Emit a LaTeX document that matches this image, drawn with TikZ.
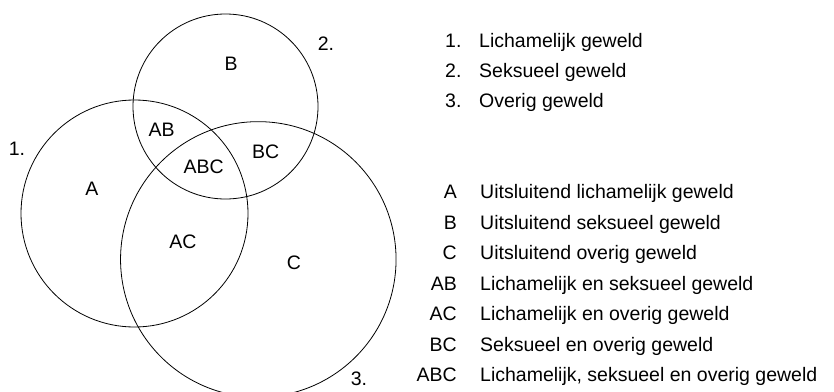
\documentclass[tikz,border=0pt]{standalone}
\usepackage{fontspec}
\setmainfont{Liberation Sans}
\usetikzlibrary{positioning}

\begin{document}
\begin{tikzpicture}[x=1pt, y=-1pt,
    vennCircle/.style={draw=black, line width=0.8pt, circle, inner sep=0pt},
    vennText/.style={inner sep=0pt, anchor=base, font=\fontsize{19.5}{23}\selectfont},
    keyText/.style={inner sep=0pt, anchor=base east, font=\fontsize{19.5}{23}\selectfont},
    legendText/.style={inner sep=0pt, anchor=base west, font=\fontsize{19.5}{23}\selectfont}]
\useasboundingbox (0,0) rectangle (834,391);

% the three sets
\node[vennCircle, minimum size=227pt] (circA) at (134.5,213.5) {};
\node[vennCircle, minimum size=185pt] (circB) at (225.5,106.5) {};
\node[vennCircle, minimum size=275.5pt] (circC) at (258.3,259.4) {};

\node[vennText] (numA) at (17,155) {1.};
\node[vennText] (numB) at (326,50) {2.};
\node[vennText] (numC) at (359,385) {3.};

\node[vennText] (regA) at (92,195) {A};
\node[vennText] (regB) at (231,70.7) {B};
\node[vennText] (regC) at (294,269) {C};
\node[vennText] (regAB) at (161.7,136.7) {AB};
\node[vennText] (regAC) at (183,248) {AC};
\node[vennText] (regBC) at (265.7,158) {BC};
\node[vennText] (regABC) at (203.7,173) {ABC};

% legend of the sets
\node[legendText] (legNumA) at (445,47) {1.};
\node[legendText] (legSetA) at (479,47) {Lichamelijk geweld};
\node[legendText] (legNumB) at (445,77) {2.};
\node[legendText] (legSetB) at (479,77) {Seksueel geweld};
\node[legendText] (legNumC) at (445,107) {3.};
\node[legendText] (legSetC) at (479,107) {Overig geweld};

% legend of the regions
\node[keyText] (keyA) at (457,198) {A};
\node[legendText] (descA) at (480,198) {Uitsluitend lichamelijk geweld};
\node[keyText] (keyB) at (457,229) {B};
\node[legendText] (descB) at (480,229) {Uitsluitend seksueel geweld};
\node[keyText] (keyC) at (457,259) {C};
\node[legendText] (descC) at (480,259) {Uitsluitend overig geweld};
\node[keyText] (keyAB) at (457,290) {AB};
\node[legendText] (descAB) at (480,290) {Lichamelijk en seksueel geweld};
\node[keyText] (keyAC) at (457,320) {AC};
\node[legendText] (descAC) at (480,320) {Lichamelijk en overig geweld};
\node[keyText] (keyBC) at (457,351) {BC};
\node[legendText] (descBC) at (480,351) {Seksueel en overig geweld};
\node[keyText] (keyABC) at (457,381) {ABC};
\node[legendText] (descABC) at (480,381) {Lichamelijk, seksueel en overig geweld};

\end{tikzpicture}
\end{document}
